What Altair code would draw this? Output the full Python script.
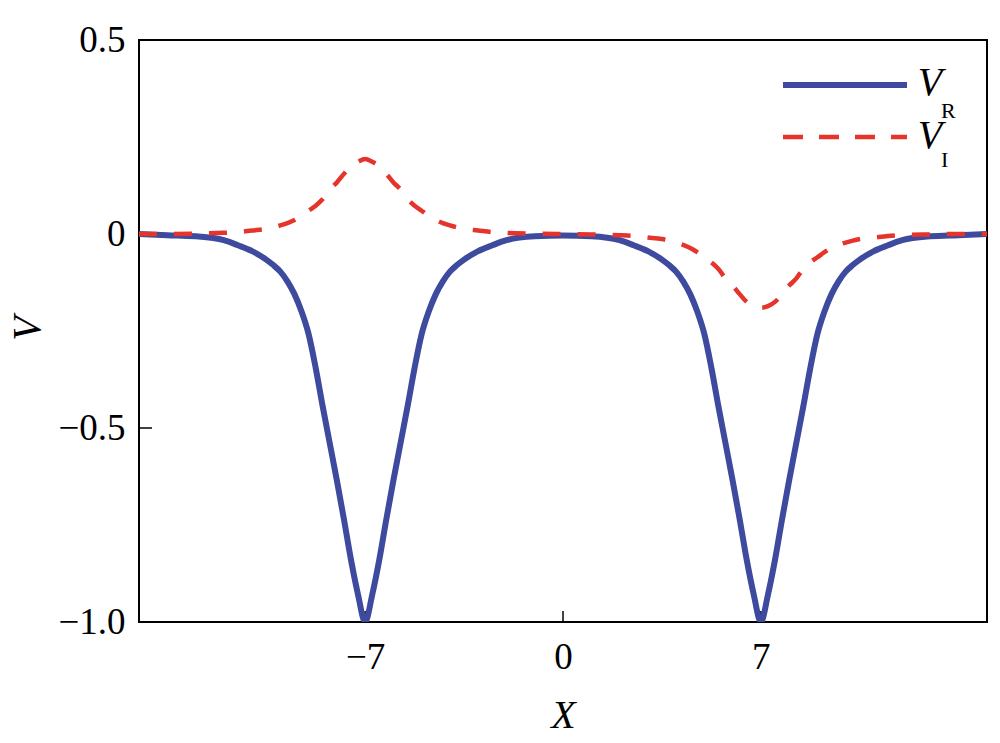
import altair as alt
import pandas as pd

# ---- data ----
x_vals = [-15, -14, -13, -12, -11.5, -11, -10.5, -10.25, -10, -9.75, -9.5, -9.25, -9,
          -8.75, -8.5, -8.25, -8, -7.75, -7.5, -7.25, -7, -6.75, -6.5, -6.25, -6,
          -5.75, -5.5, -5.25, -5, -4.75, -4.5, -4.25, -4, -3.75, -3.5, -3, -2.5, -2,
          -1, 0, 1, 2, 2.5, 3, 3.5, 3.75, 4, 4.25, 4.5, 4.75, 5, 5.25, 5.5, 5.75, 6,
          6.25, 6.5, 6.75, 7, 7.25, 7.5, 7.75, 8, 8.25, 8.5, 8.75, 9, 9.25, 9.5,
          9.75, 10, 10.25, 10.5, 11, 11.5, 12, 13, 14, 15]

v_real = [0.0, -0.003, -0.006, -0.016, -0.029, -0.044, -0.066, -0.08, -0.097, -0.122,
          -0.155, -0.2, -0.258, -0.345, -0.445, -0.54, -0.635, -0.735, -0.84, -0.93,
          -1.0, -0.93, -0.84, -0.735, -0.635, -0.54, -0.445, -0.345, -0.258, -0.2,
          -0.155, -0.122, -0.097, -0.08, -0.066, -0.044, -0.029, -0.016, -0.006,
          -0.004,
          -0.006, -0.016, -0.029, -0.044, -0.066, -0.08, -0.097, -0.122, -0.155,
          -0.2, -0.258, -0.345, -0.445, -0.54, -0.635, -0.735, -0.84, -0.93, -1.0,
          -0.93, -0.84, -0.735, -0.635, -0.54, -0.445, -0.345, -0.258, -0.2, -0.155,
          -0.122, -0.097, -0.08, -0.066, -0.044, -0.029, -0.016, -0.006, -0.003, 0.0]

v_imag = [0.0, 0.0, 0.001, 0.003, 0.005, 0.009, 0.013, 0.017, 0.022, 0.028, 0.036,
          0.047, 0.06, 0.073, 0.09, 0.115, 0.133, 0.155, 0.175, 0.186, 0.193, 0.186,
          0.175, 0.155, 0.133, 0.115, 0.09, 0.073, 0.06, 0.047, 0.036, 0.028, 0.022,
          0.017, 0.013, 0.009, 0.005, 0.003, 0.001,
          0.0,
          -0.001, -0.003, -0.005, -0.009, -0.013, -0.017, -0.022, -0.028, -0.036,
          -0.047, -0.06, -0.073, -0.09, -0.115, -0.133, -0.155, -0.175, -0.186,
          -0.19, -0.186, -0.175, -0.155, -0.133, -0.115, -0.09, -0.073, -0.06,
          -0.047, -0.036, -0.028, -0.022, -0.017, -0.013, -0.009, -0.005, -0.003,
          -0.001, 0.0, 0.0]

x_ticks = [-7, 0, 7]
y_ticks = [-1.0, -0.5, 0, 0.5]
legend_main = ["V", "V"]
legend_sub = ["R", "I"]

BLUE = "#3D4A9E"
RED = "#E5342C"
FONT = "Liberation Serif"

df = pd.DataFrame({"x": x_vals, "vr": v_real, "vi": v_imag})
W, H = 848, 582

xscale = alt.Scale(domain=[-15, 15], nice=False, zero=False)
yscale = alt.Scale(domain=[-1.0, 0.5], nice=False, zero=False)

x_label_expr = "datum.value == 0 ? '0' : replace(format(datum.value, 'd'), '-', '\u2212')"
y_label_expr = "datum.value == 0 ? '0' : replace(format(datum.value, '.1f'), '-', '\u2212')"

x_axis = alt.Axis(values=x_ticks, labelExpr=x_label_expr, title="X",
                  ticks=False, tickSize=0, domain=False, grid=False,
                  labelFont=FONT, labelFontSize=37, labelColor="black", labelPadding=17,
                  titleFont=FONT, titleFontSize=40, titleFontStyle="italic",
                  titleFontWeight="normal", titleColor="black",
                  titleX=424, titleY=105, titleBaseline="alphabetic", titleAlign="center")
y_axis = alt.Axis(values=y_ticks, labelExpr=y_label_expr,
                  title="V", ticks=False, tickSize=0, domain=False, grid=False,
                  labelFont=FONT, labelFontSize=37, labelColor="black", labelPadding=14,
                  labelBaseline="middle",
                  titleFont=FONT, titleFontSize=40, titleFontStyle="italic",
                  titleFontWeight="normal", titleColor="black",
                  titleX=-100, titleY=288, titleAngle=270, titleBaseline="alphabetic",
                  titleAlign="center")

base = alt.Chart(df)

vr_line = base.mark_line(color=BLUE, strokeWidth=6, clip=True, interpolate="monotone").encode(
    x=alt.X("x:Q", scale=xscale, axis=x_axis),
    y=alt.Y("vr:Q", scale=yscale, axis=y_axis),
)
vi_line = base.mark_line(color=RED, strokeWidth=4.5, strokeDash=[18, 17], clip=True,
                         interpolate="monotone").encode(
    x=alt.X("x:Q", scale=xscale),
    y=alt.Y("vi:Q", scale=yscale),
)

xt = alt.Chart(pd.DataFrame({"t": x_ticks})).mark_rule(color="black", strokeWidth=1.5).encode(
    x=alt.X("t:Q", scale=xscale), y=alt.value(H), y2=alt.value(H - 11))
yt = alt.Chart(pd.DataFrame({"t": y_ticks})).mark_rule(color="black", strokeWidth=1.5).encode(
    y=alt.Y("t:Q", scale=yscale), x=alt.value(0), x2=alt.value(13))

leg = pd.DataFrame({"main": legend_main, "sub": legend_sub})
leg_r = alt.Chart(leg.iloc[[0]]).mark_rule(color=BLUE, strokeWidth=6).encode(
    x=alt.value(644), x2=alt.value(768), y=alt.value(45))
leg_i = alt.Chart(leg.iloc[[1]]).mark_rule(color=RED, strokeWidth=4.5, strokeDash=[20, 16]).encode(
    x=alt.value(644), x2=alt.value(768), y=alt.value(97))
leg_v_r = alt.Chart(leg.iloc[[0]]).mark_text(font=FONT, fontStyle="italic", fontSize=40,
                                             align="center", baseline="alphabetic", color="black").encode(
    text="main:N", x=alt.value(791), y=alt.value(55))
leg_v_i = alt.Chart(leg.iloc[[1]]).mark_text(font=FONT, fontStyle="italic", fontSize=40,
                                             align="center", baseline="alphabetic", color="black").encode(
    text="main:N", x=alt.value(791), y=alt.value(108))
leg_s_r = alt.Chart(leg.iloc[[0]]).mark_text(font=FONT, fontSize=22, align="left",
                                             baseline="alphabetic", color="black").encode(
    text="sub:N", x=alt.value(802), y=alt.value(78))
leg_s_i = alt.Chart(leg.iloc[[1]]).mark_text(font=FONT, fontSize=22, align="left",
                                             baseline="alphabetic", color="black").encode(
    text="sub:N", x=alt.value(802), y=alt.value(127))

chart = alt.layer(xt, yt, vr_line, vi_line, leg_r, leg_i, leg_v_r, leg_v_i, leg_s_r, leg_s_i).properties(
    width=W, height=H,
    autosize=alt.AutoSizeParams(type="none"),
    padding={"left": 131, "top": 32, "right": 5, "bottom": 113},
    background="white",
).configure_view(stroke="black", strokeWidth=2)

chart.save("out.html", embed_options={"renderer": "svg", "actions": False})
